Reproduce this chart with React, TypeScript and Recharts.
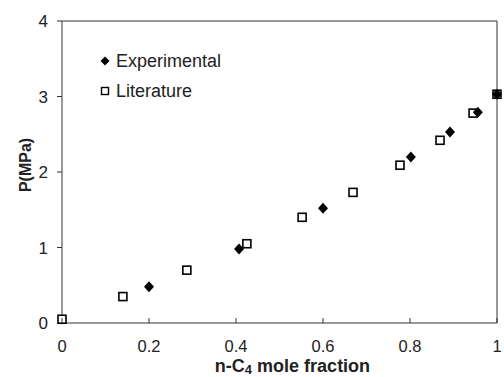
import React from 'react';
import { ScatterChart, Scatter, XAxis, YAxis, ReferenceLine, Label } from 'recharts';

// n-C4 mole fraction vs pressure (MPa)
const experimentalX = [0.2, 0.407, 0.6, 0.802, 0.892, 0.956, 1.0];
const experimentalP = [0.48, 0.98, 1.52, 2.2, 2.53, 2.79, 3.03];
const literatureX = [0, 0.14, 0.287, 0.425, 0.552, 0.669, 0.777, 0.869, 0.945, 1.0];
const literatureP = [0.05, 0.35, 0.7, 1.05, 1.4, 1.73, 2.09, 2.42, 2.78, 3.03];
const xTicks = [0, 0.2, 0.4, 0.6, 0.8, 1];
const yTicks = [0, 1, 2, 3, 4];
const seriesNames = ['Experimental', 'Literature'];

const FONT = '"Liberation Sans", Arial, sans-serif';
const INK = '#222';
const LINE = '#333';

const experimental = experimentalX.map((x, i) => ({ x, y: experimentalP[i] }));
const literature = literatureX.map((x, i) => ({ x, y: literatureP[i] }));

const Diamond = (props: any) => {
  const { cx, cy } = props;
  return <path d={`M${cx},${cy - 5.5}L${cx + 5},${cy}L${cx},${cy + 5.5}L${cx - 5},${cy}Z`} fill="#000" />;
};

const OpenSquare = (props: any) => {
  const { cx, cy } = props;
  return <rect x={cx - 4} y={cy - 4} width={8} height={8} fill="#fff" stroke="#000" strokeWidth={1.6} />;
};

const XTick = (props: any) => {
  const { x, y, payload } = props;
  return (
    <g>
      <line x1={x} x2={x} y1={y} y2={y - 5} stroke={LINE} />
      <text x={x} y={y + 29} textAnchor="middle" fontSize={16.5} fill={INK} fontFamily={FONT}>
        {String(payload.value)}
      </text>
    </g>
  );
};

// legend drawn as an overlay so it does not take space from the plot
const LegendBox = () => (
  <div style={{ position: 'absolute', left: 100, top: 46, fontFamily: FONT, fontSize: 18, color: INK }}>
    <div style={{ display: 'flex', alignItems: 'center', height: 30 }}>
      <svg width={10} height={10} style={{ marginRight: 6 }}>
        <path d="M5,0.5L9.5,5L5,9.5L0.5,5Z" fill="#000" />
      </svg>
      {seriesNames[0]}
    </div>
    <div style={{ display: 'flex', alignItems: 'center', height: 30 }}>
      <svg width={10} height={10} style={{ marginRight: 6 }}>
        <rect x={1.5} y={1.5} width={7} height={7} fill="#fff" stroke="#000" strokeWidth={1.4} />
      </svg>
      {seriesNames[1]}
    </div>
  </div>
);

export default function App() {
  return (
    <div style={{ position: 'absolute', left: 0, top: 0, width: 504, height: 377, background: '#fff' }}>
      <ScatterChart width={504} height={377} margin={{ top: 21, right: 7, left: 0, bottom: 0 }}>
        <XAxis
          type="number"
          dataKey="x"
          domain={[0, 1]}
          ticks={xTicks}
          tick={<XTick />}
          tickLine={false}
          tickSize={0}
          tickMargin={0}
          axisLine={{ stroke: LINE }}
          height={54}
          interval={0}
        >
          <Label
            content={(p: any) => {
              const vb = p.viewBox;
              return (
                <text
                  x={vb.x + vb.width / 2 + 13}
                  y={vb.y + 49}
                  textAnchor="middle"
                  fontSize={18}
                  fontWeight="bold"
                  fill={INK}
                  fontFamily={FONT}
                >
                  n-C<tspan fontSize={13} dy={2}>4</tspan>
                  <tspan dy={-2}> mole fraction</tspan>
                </text>
              );
            }}
          />
        </XAxis>
        <YAxis
          type="number"
          dataKey="y"
          domain={[0, 4]}
          ticks={yTicks}
          width={62}
          tickSize={5}
          tickMargin={9}
          tickLine={{ stroke: LINE }}
          axisLine={{ stroke: LINE }}
          tick={{ fontSize: 17, fill: INK, fontFamily: FONT }}
          interval={0}
        >
          <Label
            content={(p: any) => {
              const vb = p.viewBox;
              const cy = vb.y + vb.height / 2 - 7;
              return (
                <text
                  x={25}
                  y={cy}
                  transform={`rotate(-90 25 ${cy})`}
                  textAnchor="middle"
                  dominantBaseline="central"
                  fontSize={16}
                  fontWeight="bold"
                  fill={INK}
                  fontFamily={FONT}
                >
                  P(MPa)
                </text>
              );
            }}
          />
        </YAxis>
        <ReferenceLine y={4} stroke={LINE} />
        <ReferenceLine x={1} stroke={LINE} />
        <Scatter name={seriesNames[1]} data={literature} shape={<OpenSquare />} isAnimationActive={false} />
        <Scatter name={seriesNames[0]} data={experimental} shape={<Diamond />} isAnimationActive={false} />
      </ScatterChart>
      <LegendBox />
    </div>
  );
}
